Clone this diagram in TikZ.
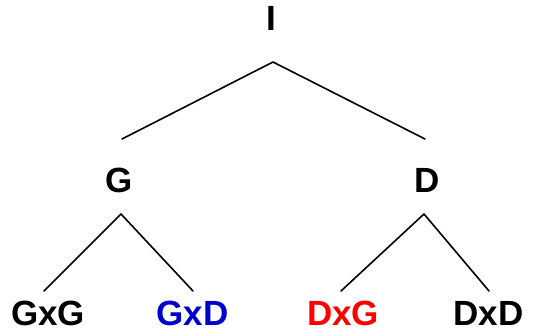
\documentclass[tikz,border=0pt]{standalone}
\usepackage{fontspec}
\setmainfont{Liberation Sans}
\definecolor{myblue}{RGB}{0,0,204}
\definecolor{myred}{RGB}{255,0,0}
\begin{document}
\begin{tikzpicture}[x=1pt,y=-1pt,
  lbl/.style={font=\fontsize{35}{35}\selectfont\bfseries, inner sep=0pt, anchor=center},
  edge/.style={line width=1.6pt, line cap=round, line join=round}]
\useasboundingbox (0,0) rectangle (535,334);
\node[lbl] (I) at (271.5,18.5) {I};
\node[lbl] (G) at (119,180.5) {G};
\node[lbl] (D) at (427.5,180.5) {D};
\node[lbl] (GG) at (48,313.5) {GxG};
\node[lbl, text=myblue] (GD) at (192.5,313.5) {GxD};
\node[lbl, text=myred] (DG) at (343,313.5) {DxG};
\node[lbl] (DD) at (488.5,313.5) {DxD};
% connector anchor points
\coordinate (Ia) at (273,62);
\coordinate (Gt) at (122,139);
\coordinate (Dt) at (425,139);
\coordinate (Ga) at (121,214);
\coordinate (Da) at (424,214);
\coordinate (GGt) at (44,291);
\coordinate (GDt) at (193,291);
\coordinate (DGt) at (341,291);
\coordinate (DDt) at (489,291);
\draw[edge] (Gt) -- (Ia) -- (Dt);
\draw[edge] (GGt) -- (Ga) -- (GDt);
\draw[edge] (DGt) -- (Da) -- (DDt);
\end{tikzpicture}
\end{document}
